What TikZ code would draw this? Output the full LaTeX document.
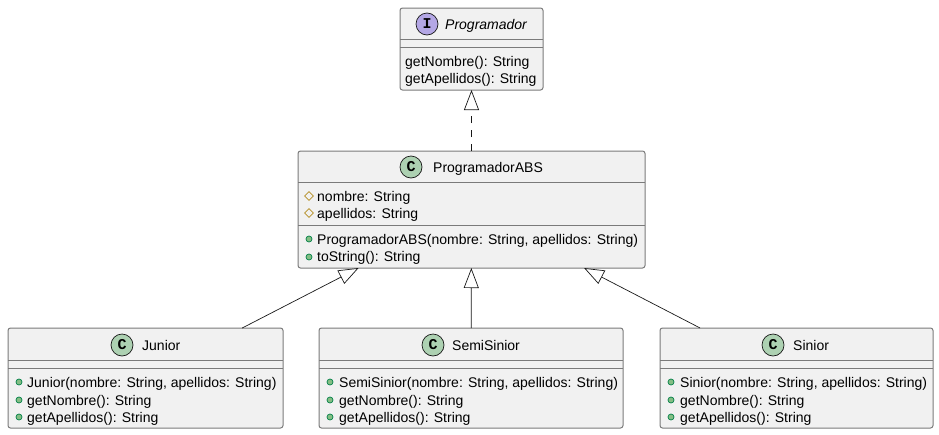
\documentclass[tikz,border=0pt]{standalone}
\usepackage{fontspec}
\setmainfont{Liberation Sans}
\newfontfamily\iconfont{Liberation Mono}
\usetikzlibrary{arrows.meta,shapes.geometric}
\definecolor{box_fill}{HTML}{F1F1F1}
\definecolor{box_line}{HTML}{7A7A7A}
\definecolor{link_line}{HTML}{181818}
\begin{document}
\begin{tikzpicture}[x=1pt,y=-1pt,font=\fontsize{14}{16}\selectfont]
    \tikzstyle{box_style} = [draw=box_line, line width=1, fill=box_fill, rounded corners=2.5, inner sep=0, outer sep=0]
    \tikzstyle{sep_style} = [draw=box_line, line width=1]
    \tikzstyle{icon_style} = [draw=link_line, line width=0.7, circle, minimum size=22, inner sep=0, font=\iconfont\bfseries\fontsize{15}{15}\selectfont]
    \tikzstyle{member_style} = [anchor=base west, inner sep=0]
    \tikzstyle{public_style} = [draw={rgb,255:red,3;green,128;blue,72}, fill={rgb,255:red,132;green,190;blue,132}, line width=0.7, circle, minimum size=6, inner sep=0]
    \tikzstyle{protected_style} = [draw={rgb,255:red,179;green,141;blue,34}, line width=0.7, diamond, minimum size=9, inner sep=0]
    \tikzstyle{arrow_style} = [-{Triangle[open, length=20, width=15, fill=white]}, link_line, line width=0.7]

    \useasboundingbox (0,0) rectangle (939,434);

    \node[box_style, minimum width=143, minimum height=82] (programador) at (471.5,49) {};
    \node[box_style, minimum width=347, minimum height=117] (abs) at (471.5,209.5) {};
    \node[box_style, minimum width=275, minimum height=100] (junior) at (145.5,378) {};
    \node[box_style, minimum width=304, minimum height=100] (semisinior) at (471,378) {};
    \node[box_style, minimum width=273, minimum height=100] (sinior) at (796.5,378) {};

    \draw[sep_style] (400,39) -- (543,39);
    \draw[sep_style] (400,47) -- (543,47);
    \draw[sep_style] (298,182.5) -- (645,182.5);
    \draw[sep_style] (298,225.5) -- (645,225.5);
    \draw[sep_style] (8,360.5) -- (283,360.5);
    \draw[sep_style] (8,368.5) -- (283,368.5);
    \draw[sep_style] (319,360.5) -- (623,360.5);
    \draw[sep_style] (319,368.5) -- (623,368.5);
    \draw[sep_style] (660,360.5) -- (933,360.5);
    \draw[sep_style] (660,368.5) -- (933,368.5);

    \node[icon_style, fill={rgb,255:red,180;green,167;blue,229}] (icon_programador) at (427,24) {I};
    \node[icon_style, fill={rgb,255:red,173;green,209;blue,178}] (icon_abs) at (411,167) {C};
    \node[icon_style, fill={rgb,255:red,173;green,209;blue,178}] (icon_junior) at (122,345) {C};
    \node[icon_style, fill={rgb,255:red,173;green,209;blue,178}] (icon_semisinior) at (433,345) {C};
    \node[icon_style, fill={rgb,255:red,173;green,209;blue,178}] (icon_sinior) at (773,345) {C};

    \node[member_style] (title_programador) at (445,29) {\itshape Programador};
    \node[member_style] (title_abs) at (433,172) {ProgramadorABS};
    \node[member_style] (title_junior) at (142,350) {Junior};
    \node[member_style] (title_semisinior) at (452,350) {SemiSinior};
    \node[member_style] (title_sinior) at (793,350) {Sinior};

    \node[member_style] (m1) at (405,66) {getNombre(): String};
    \node[member_style] (m2) at (405,83) {getApellidos(): String};

    \node[protected_style] (p3) at (309,196) {};
    \node[protected_style] (p4) at (309,213) {};
    \node[public_style] (p5) at (309,239) {};
    \node[public_style] (p6) at (309,257) {};
    \node[member_style] (m3) at (317,201) {nombre: String};
    \node[member_style] (m4) at (317,218) {apellidos: String};
    \node[member_style] (m5) at (317,244) {ProgramadorABS(nombre: String, apellidos: String)};
    \node[member_style] (m6) at (317,261) {toString(): String};

    \node[public_style] (p7) at (19,382) {};
    \node[public_style] (p8) at (19,400) {};
    \node[public_style] (p9) at (19,417) {};
    \node[member_style] (m7) at (27,387) {Junior(nombre: String, apellidos: String)};
    \node[member_style] (m8) at (27,405) {getNombre(): String};
    \node[member_style] (m9) at (27,422) {getApellidos(): String};

    \node[public_style] (p10) at (330,382) {};
    \node[public_style] (p11) at (330,400) {};
    \node[public_style] (p12) at (330,417) {};
    \node[member_style] (m10) at (339,387) {SemiSinior(nombre: String, apellidos: String)};
    \node[member_style] (m11) at (339,405) {getNombre(): String};
    \node[member_style] (m12) at (339,422) {getApellidos(): String};

    \node[public_style] (p13) at (671,382) {};
    \node[public_style] (p14) at (671,400) {};
    \node[public_style] (p15) at (671,417) {};
    \node[member_style] (m13) at (680,387) {Sinior(nombre: String, apellidos: String)};
    \node[member_style] (m14) at (680,405) {getNombre(): String};
    \node[member_style] (m15) at (680,422) {getApellidos(): String};

    \draw[arrow_style, dash pattern=on 7 off 7] (abs) -- (programador);
    \draw[arrow_style] (junior) -- (abs);
    \draw[arrow_style] (semisinior) -- (abs);
    \draw[arrow_style] (sinior) -- (abs);
\end{tikzpicture}
\end{document}
